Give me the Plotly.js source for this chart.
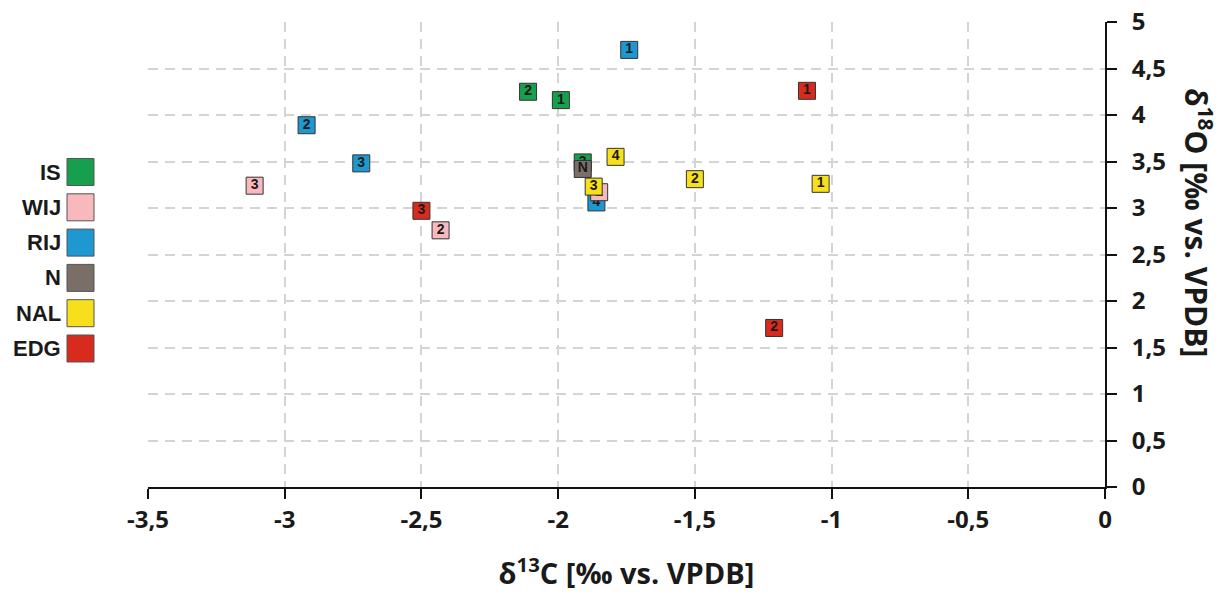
<!DOCTYPE html>
<html>
<head>
<meta charset="utf-8">
<script src="https://cdn.plot.ly/plotly-3.0.1.min.js"></script>
<style>html,body{margin:0;padding:0;background:#fff;}#chart{width:1228px;height:595px;}</style>
</head>
<body>
<div id="chart"></div>
<script>
// ---- data ----
const groups = ['IS', 'WIJ', 'RIJ', 'N', 'NAL', 'EDG'];

const IS_x  = [-1.99, -2.11, -1.91];
const IS_y  = [4.16, 4.25, 3.49];
const IS_lbl = ['1', '2', '3'];

const WIJ_x = [-1.85, -2.43, -3.11];
const WIJ_y = [3.17, 2.76, 3.24];
const WIJ_lbl = ['1', '2', '3'];

const RIJ_x = [-1.74, -2.92, -2.72, -1.86];
const RIJ_y = [4.70, 3.89, 3.48, 3.06];
const RIJ_lbl = ['1', '2', '3', '4'];

const N_x = [-1.91];
const N_y = [3.42];
const N_lbl = ['N'];

const NAL_x = [-1.04, -1.50, -1.87, -1.79];
const NAL_y = [3.26, 3.31, 3.23, 3.55];
const NAL_lbl = ['1', '2', '3', '4'];

const EDG_x = [-1.09, -1.21, -2.50];
const EDG_y = [4.26, 1.71, 2.97];
const EDG_lbl = ['1', '2', '3'];

const xTickVals = [-3.5, -3, -2.5, -2, -1.5, -1, -0.5, 0];
const xTickText = ['-3,5', '-3', '-2,5', '-2', '-1,5', '-1', '-0,5', '0'];
const yTickVals = [0, 0.5, 1, 1.5, 2, 2.5, 3, 3.5, 4, 4.5, 5];
const yTickText = ['0', '0,5', '1', '1,5', '2', '2,5', '3', '3,5', '4', '4,5', '5'];

const xTitle = 'δ<sup>13</sup>C [‰ vs. VPDB]';
const yTitle = 'δ<sup>18</sup>O [‰ vs. VPDB]';

// ---- styles ----
const colors = {IS: '#16a04e', WIJ: '#f8b9bd', RIJ: '#1d98d1', N: '#7a6e69', NAL: '#f7e01b', EDG: '#d92a1e'};
const series = {
  IS: [IS_x, IS_y, IS_lbl], WIJ: [WIJ_x, WIJ_y, WIJ_lbl], RIJ: [RIJ_x, RIJ_y, RIJ_lbl],
  N: [N_x, N_y, N_lbl], NAL: [NAL_x, NAL_y, NAL_lbl], EDG: [EDG_x, EDG_y, EDG_lbl]
};
const drawOrder = ['IS', 'RIJ', 'WIJ', 'N', 'NAL', 'EDG'];

const traces = drawOrder.map(g => ({
  type: 'scatter',
  mode: 'markers+text',
  name: g,
  x: series[g][0],
  y: series[g][1],
  text: series[g][2],
  textposition: 'middle center',
  textfont: {family: 'Liberation Sans, Arial, sans-serif', size: 14, color: '#1a1a1a', weight: 'bold'},
  marker: {symbol: 'square', size: 17, color: colors[g], line: {color: '#333333', width: 1}},
  showlegend: false,
  hoverinfo: 'x+y+name'
}));

// plot area in pixels
const L = 148, R = 1105, T = 22, B = 487, W = 1228, H = 595;
const px2x = p => (p - L) / (R - L);
const py2y = p => (B - p) / (B - T);

const shapes = [];
const annotations = [];
groups.forEach((g, i) => {
  const cy = 172 + i * 35.3;
  shapes.push({
    type: 'rect', xref: 'paper', yref: 'paper',
    x0: px2x(67), x1: px2x(94), y0: py2y(cy + 13.5), y1: py2y(cy - 13.5),
    fillcolor: colors[g], line: {color: '#555555', width: 1}
  });
  annotations.push({
    xref: 'paper', yref: 'paper', x: px2x(63), y: py2y(cy),
    xanchor: 'right', yanchor: 'middle', showarrow: false, text: g,
    font: {family: 'Liberation Sans, Arial, sans-serif', size: 22, color: '#1a1a1a', weight: 'bold'}
  });
});
// small extension of x axis line past the y axis
shapes.push({type: 'line', xref: 'paper', yref: 'paper', x0: 1, x1: px2x(1113), y0: 0, y1: 0,
  line: {color: '#111', width: 2}});

annotations.push({
  xref: 'paper', yref: 'paper', x: px2x(1198), y: py2y(222),
  xanchor: 'center', yanchor: 'middle', showarrow: false, textangle: 90,
  text: yTitle,
  font: {family: 'Open Sans, sans-serif', size: 30, color: '#1a1a1a', weight: 'bold'}
});

const tickFont = {family: 'Open Sans, sans-serif', size: 24, color: '#1a1a1a', weight: 'bold'};

const layout = {
  width: W, height: H,
  margin: {l: L, r: W - R, t: T, b: H - B},
  paper_bgcolor: '#ffffff', plot_bgcolor: '#ffffff',
  showlegend: false,
  xaxis: {
    range: [-3.5, 0], tickvals: xTickVals, ticktext: xTickText,
    showline: true, linecolor: '#111', linewidth: 2, mirror: false,
    ticks: 'outside', ticklen: 10, tickwidth: 2, tickcolor: '#111',
    showgrid: true, gridcolor: '#d4d4d4', gridwidth: 2, griddash: '10px,7px',
    zeroline: false, tickfont: tickFont,
    title: {text: xTitle, standoff: 30, font: {family: 'Open Sans, sans-serif', size: 29, color: '#1a1a1a', weight: 'bold'}}
  },
  yaxis: {
    range: [0, 5], side: 'right', tickvals: yTickVals, ticktext: yTickText,
    showline: true, linecolor: '#111', linewidth: 2,
    ticks: 'outside', ticklen: 10, tickwidth: 2, tickcolor: '#111',
    ticklabelstandoff: 10,
    showgrid: true, gridcolor: '#d4d4d4', gridwidth: 2, griddash: '10px,7px',
    zeroline: false, tickfont: tickFont
  },
  shapes: shapes,
  annotations: annotations
};

Plotly.newPlot('chart', traces, layout, {displayModeBar: false, staticPlot: true});
</script>
</body>
</html>
